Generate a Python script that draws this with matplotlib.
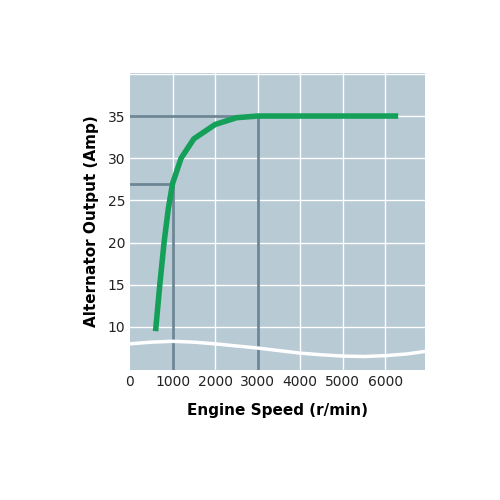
import matplotlib
matplotlib.use("Agg")
import matplotlib.pyplot as plt
import numpy as np

speed = [600, 700, 800, 900, 1000, 1200, 1500, 2000, 2500, 3000, 6300]
amps = [9.5, 15, 20, 24, 27, 30, 32.3, 34, 34.8, 35, 35]
wave_x = [0, 500, 1000, 1500, 2000, 3000, 4000, 4500, 5000, 5500, 6000, 6500, 6930]
wave_y = [8.0, 8.2, 8.3, 8.2, 8.0, 7.5, 6.9, 6.7, 6.55, 6.5, 6.6, 6.8, 7.1]
xticks = [0, 1000, 2000, 3000, 4000, 5000, 6000]
yticks = [10, 15, 20, 25, 30, 35]

fig = plt.figure(figsize=(5, 5), dpi=100)
ax = fig.add_axes([0.26, 0.26, 0.59, 0.594])
ax.set_facecolor('#b8cad4')
ax.set_xlim(0, 6930)
ax.set_ylim(4.9, 40.1)
for x in range(1000, 7000, 1000):
    ax.axvline(x, color='white', lw=1, zorder=1)
for y in range(10, 41, 5):
    ax.axhline(y, color='white', lw=1, zorder=1)
dark = '#6e8796'
ax.plot([1000, 1000], [4.9, 27], color=dark, lw=2, zorder=2)
ax.plot([0, 1000], [27, 27], color=dark, lw=2, zorder=2)
ax.plot([3000, 3000], [4.9, 35], color=dark, lw=2, zorder=2)
ax.plot([0, 3000], [35, 35], color=dark, lw=2, zorder=2)
ax.plot(wave_x, wave_y, color='white', lw=2.5, zorder=3)
ax.plot(speed, amps, color='#15a05a', lw=4, solid_capstyle='butt', zorder=4)
ax.set_xticks(xticks)
ax.set_yticks(yticks)
ax.tick_params(length=0, labelsize=10, colors='#222222')
for s in ax.spines.values():
    s.set_visible(False)
ax.set_xlabel('Engine Speed (r/min)', fontsize=11, fontweight='bold', labelpad=10)
ax.set_ylabel('Alternator Output (Amp)', fontsize=11, fontweight='bold', labelpad=6)
fig.savefig('out.png', dpi=100, facecolor='white')
